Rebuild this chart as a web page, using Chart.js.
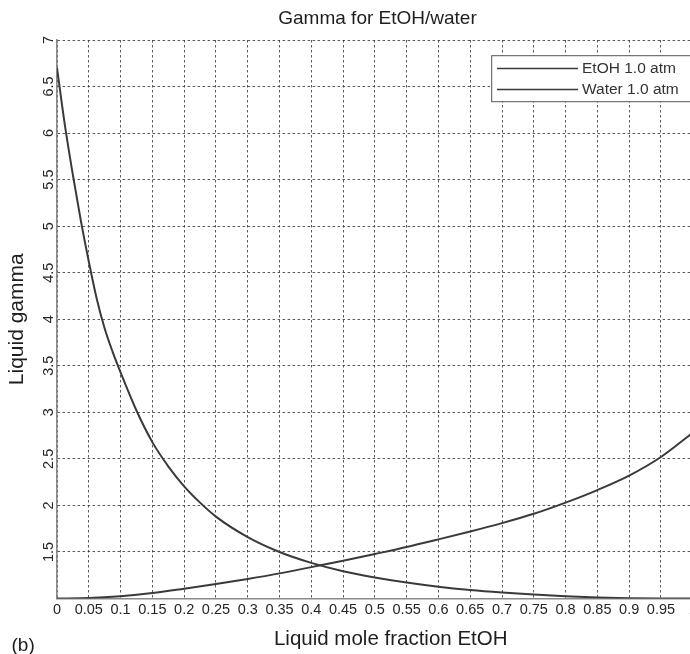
<!DOCTYPE html>
<html><head><meta charset="utf-8">
<script src="https://cdn.jsdelivr.net/npm/chart.js@4.4.1/dist/chart.umd.min.js"></script>
<style>
html,body{margin:0;padding:0;overflow:hidden;background:#fff;}
#wrap{position:relative;width:745px;height:654px;}
</style></head><body>
<div id="wrap"><canvas id="c"></canvas></div>
<script>
const chartTitle = 'Gamma for EtOH/water';
const xAxisTitle = 'Liquid mole fraction EtOH';
const yAxisTitle = 'Liquid gamma';
const panelLabel = '(b)';
const seriesNames = ['EtOH 1.0 atm', 'Water 1.0 atm'];

const etohX     = [0, 0.0125, 0.025, 0.0375, 0.05, 0.0625, 0.075, 0.0875, 0.1, 0.125, 0.15, 0.175, 0.2, 0.225, 0.25, 0.3, 0.35, 0.4, 0.45, 0.5, 0.55, 0.6, 0.65, 0.7, 0.75, 0.8, 0.85, 0.9, 0.95, 1.0];
const etohGamma = [6.70, 6.08, 5.55, 5.06, 4.62, 4.22, 3.90, 3.65, 3.43, 3.02, 2.68, 2.42, 2.205, 2.03, 1.88, 1.66, 1.50, 1.383, 1.293, 1.226, 1.171, 1.126, 1.091, 1.064, 1.042, 1.024, 1.011, 1.003, 1.0, 1.0];

const waterX     = [0, 0.05, 0.1, 0.15, 0.2, 0.25, 0.3, 0.35, 0.4, 0.45, 0.5, 0.55, 0.6, 0.65, 0.7, 0.75, 0.8, 0.85, 0.9, 0.95, 1.0];
const waterGamma = [1.0, 1.005, 1.025, 1.058, 1.105, 1.155, 1.21, 1.27, 1.337, 1.405, 1.478, 1.553, 1.635, 1.72, 1.81, 1.91, 2.03, 2.165, 2.32, 2.52, 2.78];

const xMin = 0, xMax = 1.05, xStep = 0.05, xLastLabel = 1;
const yMin = 1, yMax = 7, yStep = 0.5, yHiddenLabel = 1;

const FONT = "'Liberation Sans', Arial, Helvetica, sans-serif";
const lineColor = '#3a3a3a';
const gridColor = 'rgba(60,60,60,0.85)';
const textColor = '#1e1e1e';

const toPts = (xs, ys) => xs.map((x, i) => ({x, y: ys[i]}));

const extrasPlugin = {
  id: 'extras',
  afterDraw(chart) {
    const ctx = chart.ctx;
    ctx.save();
    // legend box
    const bx = 491.7, by = 55.7, bw = 240, bh = 46;
    ctx.fillStyle = '#fff';
    ctx.fillRect(bx, by, bw, bh);
    ctx.strokeStyle = '#555';
    ctx.lineWidth = 1;
    ctx.strokeRect(bx, by, bw, bh);
    const rows = [68.5, 89.5];
    chart.data.datasets.forEach((ds, i) => {
      ctx.strokeStyle = ds.borderColor;
      ctx.lineWidth = 1.6;
      ctx.beginPath();
      ctx.moveTo(497, rows[i]);
      ctx.lineTo(578, rows[i]);
      ctx.stroke();
      ctx.fillStyle = '#333';
      ctx.font = '15.5px ' + FONT;
      ctx.textAlign = 'left';
      ctx.textBaseline = 'middle';
      ctx.fillText(ds.label, 582, rows[i] + 0.5);
    });
    // panel label
    ctx.fillStyle = textColor;
    ctx.font = '19px ' + FONT;
    ctx.textAlign = 'left';
    ctx.textBaseline = 'middle';
    ctx.fillText(panelLabel, 11.5, 646);
    ctx.restore();
  }
};

new Chart(document.getElementById('c'), {
  type: 'line',
  data: {
    datasets: [
      { label: seriesNames[0], data: toPts(etohX, etohGamma), borderColor: lineColor, borderWidth: 2, pointRadius: 0, cubicInterpolationMode: 'monotone', fill: false },
      { label: seriesNames[1], data: toPts(waterX, waterGamma), borderColor: lineColor, borderWidth: 2, pointRadius: 0, cubicInterpolationMode: 'monotone', fill: false }
    ]
  },
  options: {
    responsive: true,
    maintainAspectRatio: false,
    animation: false,
    layout: { padding: { left: 30.5, right: 20.5, top: 0, bottom: 0 } },
    plugins: {
      legend: { display: false },
      tooltip: { enabled: false },
      title: {
        display: true, text: chartTitle, fullSize: true, color: textColor,
        font: { family: FONT, size: 19, weight: 'normal', lineHeight: 1.2 },
        padding: { top: 6.9, bottom: 10.3 }
      }
    },
    scales: {
      x: {
        type: 'linear', min: xMin, max: xMax,
        afterFit: s => { s.height = 55.5; },
        ticks: {
          stepSize: xStep, autoSkip: false, maxRotation: 0, minRotation: 0,
          padding: 3, color: '#262626', font: { family: FONT, size: 14.5 },
          callback: v => (v > xLastLabel + 1e-6 ? '' : String(+Number(v).toFixed(2)))
        },
        grid: { color: gridColor, lineWidth: 1, drawTicks: false },
        border: { display: true, color: '#8a8a8a', width: 1.6, dash: [2.5, 2.5] },
        title: { display: true, text: xAxisTitle, color: textColor, font: { family: FONT, size: 20.5, lineHeight: 1.2 }, padding: { top: 0, bottom: 2.4 } }
      },
      y: {
        type: 'linear', min: yMin, max: yMax,
        afterFit: s => { s.width = 26.5; },
        ticks: {
          stepSize: yStep, autoSkip: false, minRotation: 90, maxRotation: 90, crossAlign: 'center',
          padding: -2.1, color: '#262626', font: { family: FONT, size: 14.5 },
          callback: v => (Math.abs(v - yHiddenLabel) < 1e-6 ? '' : String(+Number(v).toFixed(2)))
        },
        grid: { color: gridColor, lineWidth: 1, drawTicks: false },
        border: { display: true, color: '#8a8a8a', width: 1.6, dash: [2.5, 2.5] },
        title: { display: true, text: yAxisTitle, color: textColor, font: { family: FONT, size: 21, lineHeight: 1.2 }, padding: { top: -25.6, bottom: 0 } }
      }
    }
  },
  plugins: [extrasPlugin]
});
</script>
</body></html>
